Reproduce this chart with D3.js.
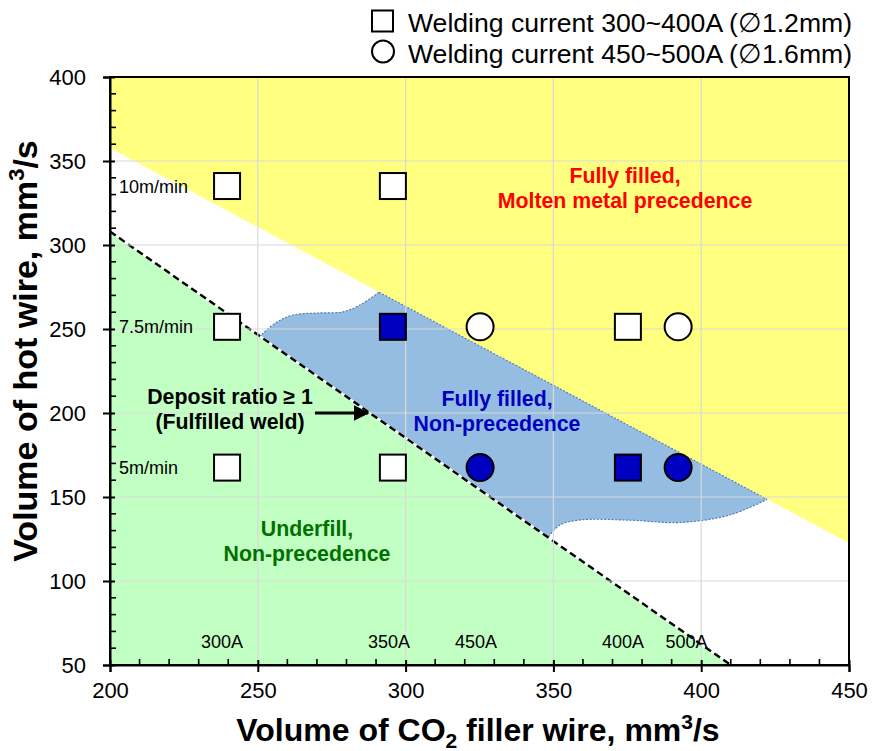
<!DOCTYPE html>
<html>
<head>
<meta charset="utf-8">
<script src="https://cdn.jsdelivr.net/npm/d3@7"></script>
<style>
  html, body { margin: 0; padding: 0; background: #fff; }
  svg { display: block; font-family: "Liberation Sans", Arial, sans-serif; }
</style>
</head>
<body>
<svg id="chart" width="875" height="751"></svg>
<script>
// Axis ranges and ticks
const xDomain = [200, 450];
const yDomain = [50, 400];
const xTicks = [200, 250, 300, 350, 400, 450];
const yTicks = [50, 100, 150, 200, 250, 300, 350, 400];

// 1.2 mm wire runs (squares)
const sqX = [239.6, 295.7, 239.6, 295.7, 375.2, 239.6, 295.7, 375.2];
const sqY = [335.1, 335.1, 251.3, 251.3, 251.3, 167.5, 167.5, 167.5];
const sqFilled = [false, false, false, true, false, false, false, true];

// 1.6 mm wire runs (circles)
const ciX = [325.2, 392.2, 325.2, 392.2];
const ciY = [251.3, 251.3, 167.5, 167.5];
const ciFilled = [false, false, true, true];

// Region boundaries
const moltenBoundary = [[200, 357.7], [450, 122.6]];
const depositLine = [[200, 308], [410, 50]];
// Fully filled / non-precedence zone: straight top edge along the molten boundary,
// wavy lower edge, straight left edge along the deposit line, wavy upper-left edge
const zoneTop = [[291, 271.9], [422.3, 148.6]];
const zoneLower = [[422.3, 148.6], [409.7, 139.3], [392.8, 134.8], [375.9, 136.2], [359, 136.3], [352.2, 133.3], [348.2, 126.1]];
const zoneLeft = [[348.2, 126.1], [250.8, 245.9]];
const zoneUpperLeft = [[250.8, 245.9], [256.5, 254.2], [261.9, 258.3], [270, 259.5], [278.8, 260.2], [284.6, 264.3], [291, 271.9]];

// Wire feed speed labels and welding current labels
const speedLabels = ["10m/min", "7.5m/min", "5m/min"];
const speedY = [335.1, 251.3, 167.5];
const currentLabels = ["300A", "350A", "450A", "400A", "500A"];
const currentX = [239.6, 295.7, 325.2, 375.2, 392.2];

const svg = d3.select("#chart");
const m = { left: 110, right: 849, top: 77, bottom: 665 };
const x = d3.scaleLinear().domain(xDomain).range([m.left, m.right]);
const y = d3.scaleLinear().domain(yDomain).range([m.bottom, m.top]);

const plot = svg.append("g");
plot.append("clipPath").attr("id", "clip")
  .append("rect").attr("x", m.left).attr("y", m.top)
  .attr("width", m.right - m.left).attr("height", m.bottom - m.top);
const area = plot.append("g").attr("clip-path", "url(#clip)");

const lin = d3.line().x(d => x(d[0])).y(d => y(d[1]));
const crv = d3.line().x(d => x(d[0])).y(d => y(d[1])).curve(d3.curveCatmullRom.alpha(0.5));

// Yellow: above molten boundary
area.append("path")
  .attr("d", lin([moltenBoundary[0], moltenBoundary[1], [xDomain[1], yDomain[1]], [xDomain[0], yDomain[1]]]) + "Z")
  .attr("fill", "#ffff80");

// Green: below deposit line
area.append("path")
  .attr("d", lin([depositLine[0], depositLine[1], [xDomain[0], yDomain[0]]]) + "Z")
  .attr("fill", "#c2ffc2");

// Blue zone
const zonePath = lin(zoneTop) +
  crv(zoneLower).replace(/^M[^CL]*/, "L" + x(zoneLower[0][0]) + "," + y(zoneLower[0][1])) +
  "L" + x(zoneLeft[1][0]) + "," + y(zoneLeft[1][1]) +
  crv(zoneUpperLeft).replace(/^M[^CL]*/, "") + "Z";
area.append("path").attr("d", zonePath)
  .attr("fill", "#95bde2")
  .attr("stroke", "#4a78ad").attr("stroke-width", 1.1)
  .attr("stroke-dasharray", "2,1.6");

// Grid
const grid = plot.append("g");
grid.selectAll(".gx").data(xTicks.slice(1, -1)).join("line")
  .attr("x1", d => x(d)).attr("x2", d => x(d))
  .attr("y1", m.top).attr("y2", m.bottom)
  .attr("stroke", "#d9d9d9").attr("stroke-width", 1.2);
grid.selectAll(".gy").data(yTicks.slice(1, -1)).join("line")
  .attr("y1", d => y(d)).attr("y2", d => y(d))
  .attr("x1", m.left).attr("x2", m.right)
  .attr("stroke", "#d9d9d9").attr("stroke-width", 1.2);

// Deposit ratio = 1 line
area.append("line")
  .attr("x1", x(depositLine[0][0])).attr("y1", y(depositLine[0][1]))
  .attr("x2", x(depositLine[1][0])).attr("y2", y(depositLine[1][1]))
  .attr("stroke", "#fff").attr("stroke-width", 2.4);
area.append("line")
  .attr("x1", x(depositLine[0][0])).attr("y1", y(depositLine[0][1]))
  .attr("x2", x(depositLine[1][0])).attr("y2", y(depositLine[1][1]))
  .attr("stroke", "#000").attr("stroke-width", 2.4)
  .attr("stroke-dasharray", "7,4");

// Frame
plot.append("rect").attr("x", m.left).attr("y", m.top)
  .attr("width", m.right - m.left).attr("height", m.bottom - m.top)
  .attr("fill", "none").attr("stroke", "#000").attr("stroke-width", 2);

// Axes
const xMinor = d3.range(200, 451, 10).filter(v => v % 50 !== 0);
const yMinor = d3.range(50, 401, 10).filter(v => v % 50 !== 0);
const xAxis = svg.append("g").attr("transform", `translate(0,${m.bottom})`)
  .call(d3.axisBottom(x).tickValues(xTicks).tickSize(7).tickPadding(10).tickFormat(d3.format("d")));
const yAxis = svg.append("g").attr("transform", `translate(${m.left},0)`)
  .call(d3.axisLeft(y).tickValues(yTicks).tickSize(7).tickPadding(17).tickFormat(d3.format("d")));
[xAxis, yAxis].forEach(a => {
  a.select(".domain").attr("stroke", "#000").attr("stroke-width", 2);
  a.selectAll(".tick line").attr("stroke", "#000").attr("stroke-width", 2);
  a.selectAll(".tick text").attr("font-size", 22).attr("fill", "#000")
    .attr("font-family", "'Liberation Sans', Arial, sans-serif");
});
xAxis.selectAll(".tick line").attr("y1", -5);
yAxis.selectAll(".tick line").attr("x1", 5);
svg.append("g").selectAll("line").data(xMinor).join("line")
  .attr("x1", d => x(d)).attr("x2", d => x(d))
  .attr("y1", m.bottom).attr("y2", m.bottom - 6)
  .attr("stroke", "#000").attr("stroke-width", 1.6);
svg.append("g").selectAll("line").data(yMinor).join("line")
  .attr("y1", d => y(d)).attr("y2", d => y(d))
  .attr("x1", m.left).attr("x2", m.left + 6)
  .attr("stroke", "#000").attr("stroke-width", 1.6);

// Axis titles
const xt = svg.append("text").attr("x", 478).attr("y", 741)
  .attr("text-anchor", "middle").attr("font-size", 32).attr("font-weight", "bold");
xt.append("tspan").text("Volume of CO");
xt.append("tspan").text("2").attr("font-size", 21).attr("dy", 7);
xt.append("tspan").text(" filler wire, mm").attr("dy", -7);
xt.append("tspan").text("3").attr("font-size", 21).attr("dy", -12);
xt.append("tspan").text("/s").attr("dy", 12);

const yt = svg.append("text").attr("transform", "translate(37,351) rotate(-90)")
  .attr("text-anchor", "middle").attr("font-size", 34).attr("font-weight", "bold");
yt.append("tspan").text("Volume of hot wire, mm");
yt.append("tspan").text("3").attr("font-size", 22).attr("dy", -13);
yt.append("tspan").text("/s").attr("dy", 13);

// Speed and current labels
svg.append("g").selectAll("text").data(speedLabels).join("text")
  .attr("x", 119).attr("y", (d, i) => y(speedY[i]) + 6.5)
  .attr("font-size", 18).text(d => d);
const currentCx = [222, 389, 476, 623, 686.5];
svg.append("g").selectAll("text").data(currentLabels).join("text")
  .attr("x", (d, i) => currentCx[i]).attr("y", 648).attr("text-anchor", "middle")
  .attr("font-size", 18).text(d => d);

// Region labels
function block(lines, cx, cy, color, size) {
  const t = svg.append("text").attr("text-anchor", "middle").attr("font-weight", "bold")
    .attr("font-size", size).attr("fill", color);
  lines.forEach((s, i) => t.append("tspan").attr("x", cx).attr("y", cy + i * 24.5).text(s));
}
block(["Fully filled,", "Molten metal precedence"], 625, 183, "#ff0000", 21.3);
block(["Fully filled,", "Non-precedence"], 497, 406, "#0000c0", 21.3);
block(["Underfill,", "Non-precedence"], 307, 536, "#007000", 21.3);
block(["Deposit ratio \u2265 1", "(Fulfilled weld)"], 230, 404, "#000", 21.3);

// Arrow
svg.append("defs").append("marker").attr("id", "ah")
  .attr("viewBox", "0 0 10 10").attr("refX", 9).attr("refY", 5)
  .attr("markerWidth", 5).attr("markerHeight", 5).attr("orient", "auto")
  .append("path").attr("d", "M0,0L10,5L0,10Z").attr("fill", "#000");
svg.append("line").attr("x1", 315).attr("y1", 413).attr("x2", 368).attr("y2", 413)
  .attr("stroke", "#000").attr("stroke-width", 3.2).attr("marker-end", "url(#ah)");

// Markers
const s = 26;
svg.append("g").selectAll("rect").data(sqX).join("rect")
  .attr("x", d => x(d) - s / 2).attr("y", (d, i) => y(sqY[i]) - s / 2)
  .attr("width", s).attr("height", s)
  .attr("fill", (d, i) => sqFilled[i] ? "#0000c0" : "#fff")
  .attr("stroke", "#000").attr("stroke-width", 2);
svg.append("g").selectAll("circle").data(ciX).join("circle")
  .attr("cx", d => x(d)).attr("cy", (d, i) => y(ciY[i])).attr("r", 13.5)
  .attr("fill", (d, i) => ciFilled[i] ? "#0000c0" : "#fff")
  .attr("stroke", "#000").attr("stroke-width", 2);

// Legend
const lg = svg.append("g");
lg.append("rect").attr("x", 372).attr("y", 10.5).attr("width", 21).attr("height", 21)
  .attr("fill", "#fff").attr("stroke", "#000").attr("stroke-width", 2);
lg.append("circle").attr("cx", 383).attr("cy", 51.5).attr("r", 11)
  .attr("fill", "#fff").attr("stroke", "#000").attr("stroke-width", 2);
lg.append("text").attr("x", 408).attr("y", 32).attr("font-size", 26.6)
  .text("Welding current 300~400A (\u22051.2mm)");
lg.append("text").attr("x", 408).attr("y", 63).attr("font-size", 26.6)
  .text("Welding current 450~500A (\u22051.6mm)");
</script>
</body>
</html>
